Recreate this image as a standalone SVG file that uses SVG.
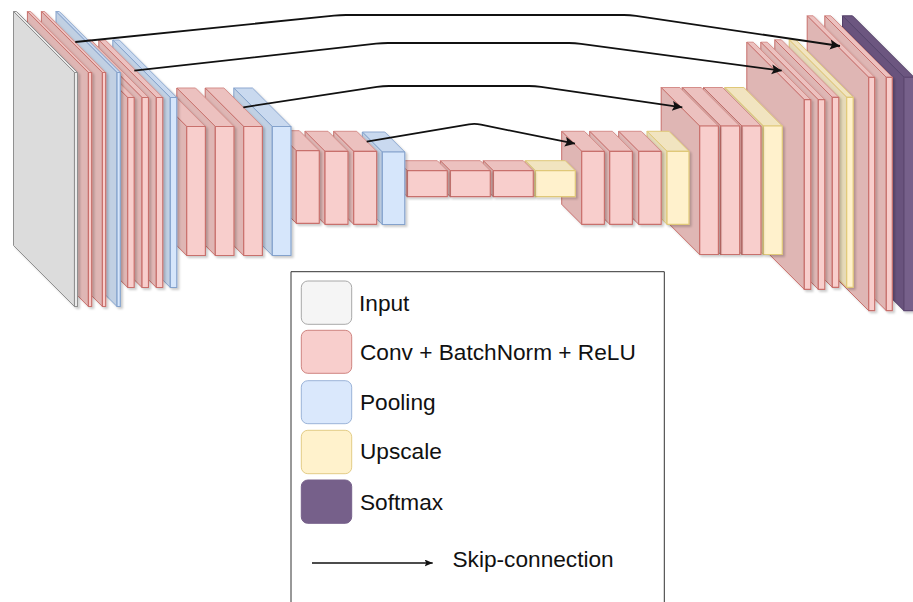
<svg xmlns="http://www.w3.org/2000/svg" width="913" height="602" viewBox="0 0 913 602">
<style>
text{font-family:"Liberation Sans",Arial,sans-serif;font-size:22.67px;fill:#111}
.f{stroke-width:1.2;stroke-linejoin:round}
.t,.s{stroke-width:1;stroke-linejoin:round}
.cube{filter:url(#sh)}
.conv .f{fill:#f8cecc;stroke:#c8706c}.conv .t{fill:#ecc1bf;stroke:#d58e8a}.conv .s{fill:#dfb6b4;stroke:#c8706c}
.pool .f{fill:#d6e6fb;stroke:#84a2cc}.pool .t{fill:#c9d9ef;stroke:#8ea9d0}.pool .s{fill:#c1d0e3;stroke:#84a2cc}
.up .f{fill:#fff1cc;stroke:#e0c878}.up .t{fill:#f1e4c0;stroke:#e0c878}.up .s{fill:#e6dab8;stroke:#e0c878}
.soft .f{fill:#76608a;stroke:#5f4a73}.soft .t{fill:#6c5780;stroke:#54406a}.soft .s{fill:#69537d;stroke:#54406a}
.inp .f{fill:#f5f5f5;stroke:#909090}.inp .t{fill:#e8e8e8;stroke:#909090}.inp .s{fill:#dcdcdc;stroke:#909090}
.link{fill:none;stroke:#111;stroke-width:1.8;marker-end:url(#ah)}
.key{stroke-width:1}
</style>
<defs>
<filter id="sh" x="-30%" y="-10%" width="160%" height="120%"><feDropShadow dx="2" dy="2" stdDeviation="1" flood-color="#000" flood-opacity="0.2"/></filter>
<marker id="ah" markerUnits="userSpaceOnUse" markerWidth="13" markerHeight="12" refX="10" refY="5" orient="auto"><path d="M0 0L10 5L0 10L2 5Z" fill="#111"/></marker>
<marker id="ah2" markerUnits="userSpaceOnUse" markerWidth="10" markerHeight="8" refX="8" refY="3.5" orient="auto"><path d="M0 0L8 3.5L0 7L1.5 3.5Z" fill="#111"/></marker>
</defs>

<g id="softmax-9" class="cube soft" transform="translate(904 77.3)"><path class="t" d="M-61.5 -61.5h10l61.5 61.5h-10z"/><path class="s" d="M-61.5 -61.5L0 0V233.4L-61.5 171.9z"/><rect class="f" width="10" height="233.4"/></g>
<g id="conv-9b" class="cube conv" transform="translate(886.3 77.3)"><path class="t" d="M-61.5 -61.5h6l61.5 61.5h-6z"/><path class="s" d="M-61.5 -61.5L0 0V233.4L-61.5 171.9z"/><rect class="f" width="6" height="233.4"/></g>
<g id="conv-9a" class="cube conv" transform="translate(868.7 77.3)"><path class="t" d="M-61.5 -61.5h6l61.5 61.5h-6z"/><path class="s" d="M-61.5 -61.5L0 0V233.4L-61.5 171.9z"/><rect class="f" width="6" height="233.4"/></g>

<g id="up-8" class="cube up" transform="translate(846.7 97.3)"><path class="t" d="M-57.5 -57.5h6.5l57.5 57.5h-6.5z"/><path class="s" d="M-57.5 -57.5L0 0V190L-57.5 132.5z"/><rect class="f" width="6.5" height="190"/></g>
<g id="conv-8c" class="cube conv" transform="translate(832.3 97.3)"><path class="t" d="M-57.5 -57.5h6.5l57.5 57.5h-6.5z"/><path class="s" d="M-57.5 -57.5L0 0V190L-57.5 132.5z"/><rect class="f" width="6.5" height="190"/></g>
<g id="conv-8b" class="cube conv" transform="translate(818.3 99.7)"><path class="t" d="M-57.5 -57.5h6.5l57.5 57.5h-6.5z"/><path class="s" d="M-57.5 -57.5L0 0V189.7L-57.5 132.2z"/><rect class="f" width="6.5" height="189.7"/></g>
<g id="conv-8a" class="cube conv" transform="translate(804.3 99.7)"><path class="t" d="M-57.5 -57.5h6.5l57.5 57.5h-6.5z"/><path class="s" d="M-57.5 -57.5L0 0V189.7L-57.5 132.2z"/><rect class="f" width="6.5" height="189.7"/></g>

<g id="up-7" class="cube up" transform="translate(763.3 126)"><path class="t" d="M-38.5 -38.5h19l38.5 38.5h-19z"/><path class="s" d="M-38.5 -38.5L0 0V128.5L-38.5 90z"/><rect class="f" width="19" height="128.5"/></g>
<g id="conv-7c" class="cube conv" transform="translate(742 126)"><path class="t" d="M-38.5 -38.5h19l38.5 38.5h-19z"/><path class="s" d="M-38.5 -38.5L0 0V128.5L-38.5 90z"/><rect class="f" width="19" height="128.5"/></g>
<g id="conv-7b" class="cube conv" transform="translate(720.7 126)"><path class="t" d="M-38.5 -38.5h19l38.5 38.5h-19z"/><path class="s" d="M-38.5 -38.5L0 0V128.5L-38.5 90z"/><rect class="f" width="19" height="128.5"/></g>
<g id="conv-7a" class="cube conv" transform="translate(699.7 126)"><path class="t" d="M-38.5 -38.5h18.7l38.5 38.5h-18.7z"/><path class="s" d="M-38.5 -38.5L0 0V128.5L-38.5 90z"/><rect class="f" width="18.7" height="128.5"/></g>

<g id="up-6" class="cube up" transform="translate(667 151.3)"><path class="t" d="M-20 -20h22l20 20h-22z"/><path class="s" d="M-20 -20L0 0V73L-20 53z"/><rect class="f" width="22" height="73"/></g>
<g id="conv-6c" class="cube conv" transform="translate(638.7 151.3)"><path class="t" d="M-20 -20h22.5l20 20h-22.5z"/><path class="s" d="M-20 -20L0 0V73L-20 53z"/><rect class="f" width="22.5" height="73"/></g>
<g id="conv-6b" class="cube conv" transform="translate(609.7 151.3)"><path class="t" d="M-20 -20h22.7l20 20h-22.7z"/><path class="s" d="M-20 -20L0 0V73L-20 53z"/><rect class="f" width="22.7" height="73"/></g>
<g id="conv-6a" class="cube conv" transform="translate(581.7 151.3)"><path class="t" d="M-20 -20h22.7l20 20h-22.7z"/><path class="s" d="M-20 -20L0 0V73L-20 53z"/><rect class="f" width="22.7" height="73"/></g>

<g id="up-5" class="cube up" transform="translate(535.3 170.7)"><path class="t" d="M-10 -10h40l10 10h-40z"/><path class="s" d="M-10 -10L0 0V26L-10 16z"/><rect class="f" width="40" height="26"/></g>
<g id="conv-5c" class="cube conv" transform="translate(493.3 170.7)"><path class="t" d="M-10 -10h40l10 10h-40z"/><path class="s" d="M-10 -10L0 0V26L-10 16z"/><rect class="f" width="40" height="26"/></g>
<g id="conv-5b" class="cube conv" transform="translate(450.3 170.7)"><path class="t" d="M-10 -10h40l10 10h-40z"/><path class="s" d="M-10 -10L0 0V26L-10 16z"/><rect class="f" width="40" height="26"/></g>
<g id="conv-5a" class="cube conv" transform="translate(407.3 170.7)"><path class="t" d="M-10 -10h40l10 10h-40z"/><path class="s" d="M-10 -10L0 0V26L-10 16z"/><rect class="f" width="40" height="26"/></g>

<g id="pool-4" class="cube pool" transform="translate(382.3 152)"><path class="t" d="M-20 -20h22.5l20 20h-22.5z"/><path class="s" d="M-20 -20L0 0V72.5L-20 52.5z"/><rect class="f" width="22.5" height="72.5"/></g>
<g id="conv-4c" class="cube conv" transform="translate(353.7 151.3)"><path class="t" d="M-20 -20h23l20 20h-23z"/><path class="s" d="M-20 -20L0 0V73L-20 53z"/><rect class="f" width="23" height="73"/></g>
<g id="conv-4b" class="cube conv" transform="translate(325 151.3)"><path class="t" d="M-20 -20h23l20 20h-23z"/><path class="s" d="M-20 -20L0 0V73L-20 53z"/><rect class="f" width="23" height="73"/></g>
<g id="conv-4a" class="cube conv" transform="translate(296.3 150.7)"><path class="t" d="M-20 -20h23l20 20h-23z"/><path class="s" d="M-20 -20L0 0V72.6L-20 52.6z"/><rect class="f" width="23" height="72.6"/></g>

<g id="pool-3" class="cube pool" transform="translate(272.3 126.5)"><path class="t" d="M-38.5 -38.5h18.7l38.5 38.5h-18.7z"/><path class="s" d="M-38.5 -38.5L0 0V129L-38.5 90.5z"/><rect class="f" width="18.7" height="129"/></g>
<g id="conv-3c" class="cube conv" transform="translate(243.7 126.5)"><path class="t" d="M-38.5 -38.5h18.7l38.5 38.5h-18.7z"/><path class="s" d="M-38.5 -38.5L0 0V129L-38.5 90.5z"/><rect class="f" width="18.7" height="129"/></g>
<g id="conv-3b" class="cube conv" transform="translate(215.3 126.5)"><path class="t" d="M-38.5 -38.5h18.7l38.5 38.5h-18.7z"/><path class="s" d="M-38.5 -38.5L0 0V129L-38.5 90.5z"/><rect class="f" width="18.7" height="129"/></g>
<g id="conv-3a" class="cube conv" transform="translate(186.7 126.5)"><path class="t" d="M-38.5 -38.5h18.7l38.5 38.5h-18.7z"/><path class="s" d="M-38.5 -38.5L0 0V129L-38.5 90.5z"/><rect class="f" width="18.7" height="129"/></g>

<g id="pool-2" class="cube pool" transform="translate(170.3 97.5)"><path class="t" d="M-57.5 -57.5h6.5l57.5 57.5h-6.5z"/><path class="s" d="M-57.5 -57.5L0 0V190L-57.5 132.5z"/><rect class="f" width="6.5" height="190"/></g>
<g id="conv-2c" class="cube conv" transform="translate(156.3 97.5)"><path class="t" d="M-57.5 -57.5h6.5l57.5 57.5h-6.5z"/><path class="s" d="M-57.5 -57.5L0 0V190L-57.5 132.5z"/><rect class="f" width="6.5" height="190"/></g>
<g id="conv-2b" class="cube conv" transform="translate(142 97.5)"><path class="t" d="M-57.5 -57.5h6.5l57.5 57.5h-6.5z"/><path class="s" d="M-57.5 -57.5L0 0V190L-57.5 132.5z"/><rect class="f" width="6.5" height="190"/></g>
<g id="conv-2a" class="cube conv" transform="translate(127.7 97.5)"><path class="t" d="M-57.5 -57.5h6.5l57.5 57.5h-6.5z"/><path class="s" d="M-57.5 -57.5L0 0V190L-57.5 132.5z"/><rect class="f" width="6.5" height="190"/></g>

<g id="pool-1" class="cube pool" transform="translate(117 72.5)"><path class="t" d="M-61 -61h3.3l61 61h-3.3z"/><path class="s" d="M-61 -61L0 0V234L-61 173z"/><rect class="f" width="3.3" height="234"/></g>
<g id="conv-1b" class="cube conv" transform="translate(102.4 72.5)"><path class="t" d="M-61 -61h3.3l61 61h-3.3z"/><path class="s" d="M-61 -61L0 0V234L-61 173z"/><rect class="f" width="3.3" height="234"/></g>
<g id="conv-1a" class="cube conv" transform="translate(88.4 72.5)"><path class="t" d="M-61 -61h3.3l61 61h-3.3z"/><path class="s" d="M-61 -61L0 0V234L-61 173z"/><rect class="f" width="3.3" height="234"/></g>
<g id="input" class="cube inp" transform="translate(74.5 72.5)"><path class="t" d="M-61 -61h3l61 61h-3z"/><path class="s" d="M-61 -61L0 0V234L-61 173z"/><rect class="f" width="3" height="234"/></g>

<g id="legend">
<path id="legend-box" d="M291 602V271.7H664.3V602" fill="#fff" stroke="#333" stroke-width="1"/>
<g id="key-input"><rect class="key" x="301.3" y="281" width="50.4" height="43.3" rx="6.5" fill="#f5f5f5" stroke="#a8a8a8"/><text x="359" y="311">Input</text></g>
<g id="key-conv"><rect class="key" x="301.3" y="330.3" width="50.4" height="43" rx="6.5" fill="#f8cecc" stroke="#cf8480"/><text x="360" y="359.5">Conv + BatchNorm + ReLU</text></g>
<g id="key-pool"><rect class="key" x="301.3" y="380.7" width="50.4" height="43" rx="6.5" fill="#dae8fc" stroke="#9ab3d8"/><text x="360" y="409.7">Pooling</text></g>
<g id="key-up"><rect class="key" x="301.3" y="430.3" width="50.4" height="43.4" rx="6.5" fill="#fff2cc" stroke="#e3cc85"/><text x="360" y="459.3">Upscale</text></g>
<g id="key-soft"><rect class="key" x="301.3" y="480" width="50.4" height="43.3" rx="6.5" fill="#76608a" stroke="#76608a"/><text x="360" y="509.7">Softmax</text></g>
<text id="key-skip" x="452.5" y="567.3">Skip-connection</text>
</g>

<g id="connectors">
<path class="link" d="M75.3 42L334 15.6Q340 15 346 15H624Q630 15 636 15.9L840 46"/>
<path class="link" d="M134.3 70.7L376 43.7Q382 43 388 43H569Q575 43 581 43.8L781.7 70.7"/>
<path class="link" d="M243.3 107.3L377 86.9Q383 86 389 86H529Q535 86 541 86.9L682.3 107.3"/>
<path class="link" d="M366.7 141.7L469 124.4Q475 123.4 481 124.7L575 143.7"/>
<path d="M312 563H432.7" fill="none" stroke="#111" stroke-width="1.3" marker-end="url(#ah2)"/>
</g>
</svg>
